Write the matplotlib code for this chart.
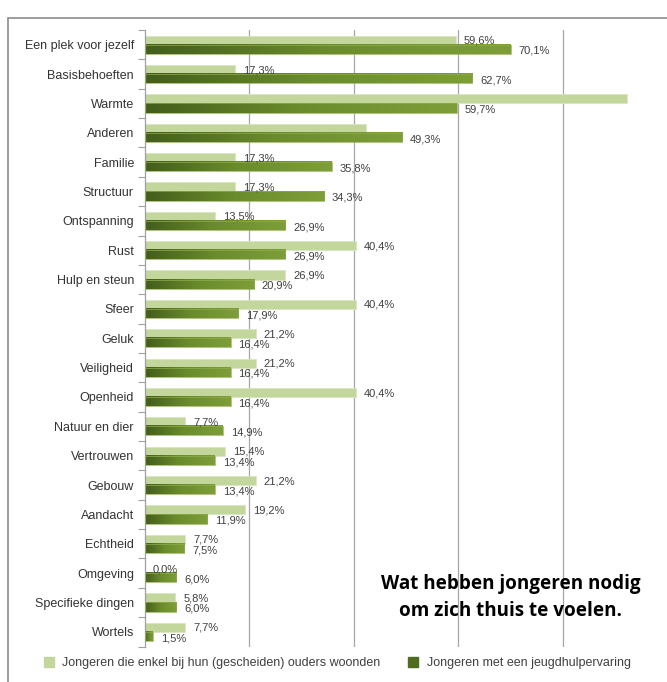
import matplotlib.pyplot as plt
import numpy as np
from matplotlib.colors import LinearSegmentedColormap
from matplotlib.patches import Rectangle
from matplotlib.lines import Line2D

categories = ["Een plek voor jezelf", "Basisbehoeften", "Warmte", "Anderen", "Familie",
              "Structuur", "Ontspanning", "Rust", "Hulp en steun", "Sfeer", "Geluk",
              "Veiligheid", "Openheid", "Natuur en dier", "Vertrouwen", "Gebouw",
              "Aandacht", "Echtheid", "Omgeving", "Specifieke dingen", "Wortels"]
ouders = [59.6, 17.3, 92.3, 42.3, 17.3, 17.3, 13.5, 40.4, 26.9, 40.4, 21.2,
          21.2, 40.4, 7.7, 15.4, 21.2, 19.2, 7.7, 0.0, 5.8, 7.7]
jeugdhulp = [70.1, 62.7, 59.7, 49.3, 35.8, 34.3, 26.9, 26.9, 20.9, 17.9, 16.4,
             16.4, 16.4, 14.9, 13.4, 13.4, 11.9, 7.5, 6.0, 6.0, 1.5]
# in het origineel ontbreken twee labels van de lichte reeks
ouders_label = [True, True, False, False] + [True] * 17
legend_labels = ["Jongeren die enkel bij hun (gescheiden) ouders woonden",
                 "Jongeren met een jeugdhulpervaring"]
title = "Wat hebben jongeren nodig\nom zich thuis te voelen."

light = "#c3d69b"
dark_cmap = LinearSegmentedColormap.from_list("groen", ["#435d1b", "#6b8c2c", "#7d9e38"])
lab_font = ["Liberation Sans", "DejaVu Sans"]

fig = plt.figure(figsize=(6.67, 6.82), dpi=100)
ax = fig.add_axes([0.2174, 0.052, 0.7826, 0.904])

n = len(categories)
y = np.arange(n)
h = 0.31

ax.barh(y - h / 2, ouders, height=h, color=light, edgecolor="#d9e6c2", linewidth=0.6, zorder=2)

grad = np.linspace(0, 1, 256).reshape(1, -1)
for i, v in enumerate(jeugdhulp):
    ax.imshow(grad, cmap=dark_cmap, aspect="auto", extent=(0, v, i + h, i), zorder=2,
              interpolation="bicubic")
    ax.add_patch(Rectangle((0, i), v, h, fill=False, edgecolor="#8fae4c", linewidth=0.5, zorder=3))

for i in range(n):
    if ouders_label[i]:
        ax.text(ouders[i] + 1.5, i - h / 2 + 0.02, f"{ouders[i]:.1f}%".replace(".", ","),
                fontsize=8, color="#404040", va="center", ha="left", family=lab_font)
    ax.text(jeugdhulp[i] + 1.5, i + h / 2 + 0.06, f"{jeugdhulp[i]:.1f}%".replace(".", ","),
            fontsize=8, color="#404040", va="center", ha="left", family=lab_font)

ax.set_xlim(0, 100)
ax.set_ylim(n - 0.5, -0.5)
ax.set_yticks(y)
ax.set_yticklabels(categories, fontsize=9, color="#333333", family=lab_font)
ax.tick_params(axis="y", which="major", length=0, pad=8)
ax.set_yticks(np.arange(n + 1) - 0.5, minor=True)
ax.tick_params(axis="y", which="minor", length=5, color="#a0a0a0", width=0.8)
ax.set_xticks([20, 40, 60, 80])
ax.tick_params(axis="x", length=0, labelbottom=False)
ax.grid(axis="x", color="#a6a6a6", linewidth=0.9, zorder=0)
ax.set_axisbelow(True)
for s in ["top", "right", "bottom"]:
    ax.spines[s].set_visible(False)
ax.spines["left"].set_color("#a0a0a0")
ax.spines["left"].set_linewidth(0.9)

ax.text(0.70, 0.079, title, transform=ax.transAxes, ha="center", va="center",
        fontsize=13.6, fontweight="bold", color="black", linespacing=1.45,
        family=["Open Sans", "DejaVu Sans"])

handles = [Line2D([], [], marker="s", linestyle="", markersize=7.5, color=light),
           Line2D([], [], marker="s", linestyle="", markersize=7.5, color="#4f6d20")]
fig.legend(handles, legend_labels, loc="center", bbox_to_anchor=(0.5, 0.028), ncol=2,
           frameon=False, prop={"family": lab_font, "size": 9}, handletextpad=0.1,
           columnspacing=1.6, labelcolor="#404040")

# kader rond de grafiek
fig.add_artist(Rectangle((0.012, -0.01), 1.0, 0.983, transform=fig.transFigure,
                         fill=False, edgecolor="#8c8c8c", linewidth=1.2))

fig.savefig("out.png", dpi=100)
